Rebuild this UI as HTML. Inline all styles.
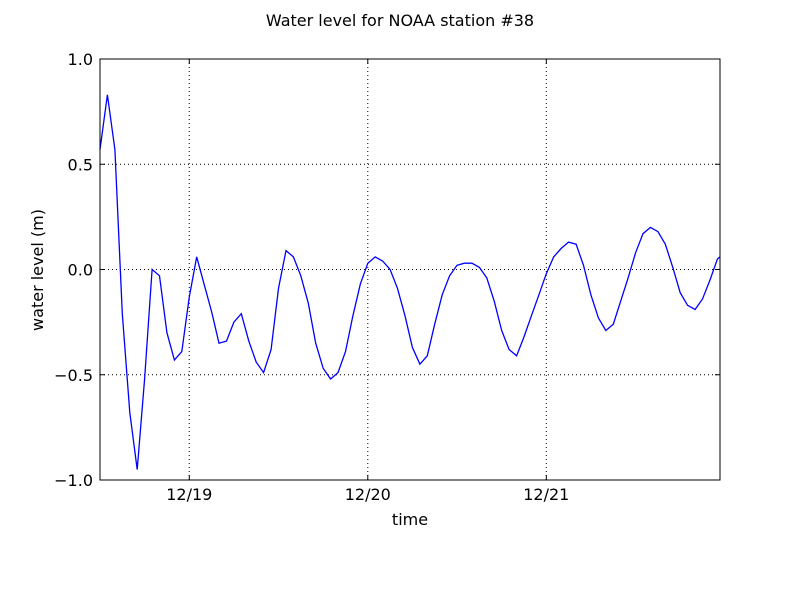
<!DOCTYPE html>
<html><head><meta charset="utf-8"><style>
body{margin:0;background:#fff;}
svg text{font-family:"DejaVu Sans","Liberation Sans",sans-serif;}
</style></head><body>
<svg id="chart" width="800" height="600" xmlns="http://www.w3.org/2000/svg">
<rect width="800" height="600" fill="#fff"/>
<text x="400" y="26" text-anchor="middle" font-size="16">Water level for NOAA station #38</text>
<g id="grid"></g>
<polyline id="line" fill="none" stroke="#0000ff" stroke-width="1.3"/>
<rect x="100" y="59" width="620" height="421" fill="none" stroke="#000" stroke-width="1"/>
<g id="ticks"></g>
<text x="410" y="525" text-anchor="middle" font-size="16">time</text>
<text transform="translate(43,270) rotate(-90)" text-anchor="middle" font-size="16">water level (m)</text>
</svg>
<script>
const hours = [];
const levels = [0.57,0.83,0.57,-0.21,-0.68,-0.95,-0.52,0.0,-0.03,-0.30,-0.43,-0.39,-0.13,0.06,-0.07,-0.2,-0.35,-0.34,-0.25,-0.21,-0.34,-0.44,-0.49,-0.38,-0.09,0.09,0.06,-0.03,-0.16,-0.35,-0.47,-0.52,-0.49,-0.39,-0.22,-0.07,0.03,0.06,0.04,0.0,-0.09,-0.22,-0.37,-0.45,-0.41,-0.26,-0.12,-0.03,0.02,0.03,0.03,0.01,-0.04,-0.15,-0.29,-0.38,-0.41,-0.32,-0.22,-0.12,-0.02,0.06,0.10,0.13,0.12,0.02,-0.12,-0.23,-0.29,-0.26,-0.15,-0.04,0.08,0.17,0.20,0.18,0.12,0.01,-0.11,-0.17,-0.19,-0.14,-0.05,0.05,0.06];
for (let i=0;i<levels.length;i++) hours.push(i<84?i:83.35);
const xTickHours = [12,36,60];
const xTickLabels = ["12/19","12/20","12/21"];
const yTicks = [-1,-0.5,0,0.5,1];
const yTickLabels = ["\u22121.0","\u22120.5","0.0","0.5","1.0"];
const X0=100,X1=720,Y0=480,Y1=59,XMAX=83.35;
const xs=h=>X0+(h/XMAX)*(X1-X0);
const ys=v=>Y0-(v+1)/2*(Y0-Y1);
const NS="http://www.w3.org/2000/svg";
const grid=document.getElementById('grid'), ticks=document.getElementById('ticks');
function mk(tag,attrs,parent){const e=document.createElementNS(NS,tag);for(const k in attrs)e.setAttribute(k,attrs[k]);parent.appendChild(e);return e;}
xTickHours.forEach((h,i)=>{
  const x=xs(h);
  const g=mk('line',{x1:x,x2:x,y1:Y1,y2:Y0,stroke:'#000','stroke-dasharray':'1,3','stroke-width':1},grid);
  
  
  mk('line',{x1:x,x2:x,y1:Y0,y2:Y0-5,stroke:'#000'},ticks);
  mk('line',{x1:x,x2:x,y1:Y1,y2:Y1+5,stroke:'#000'},ticks);
  const t=mk('text',{x:x,y:Y0+20,'text-anchor':'middle','font-size':16},ticks);
  t.textContent=xTickLabels[i];
  
  
});
yTicks.forEach((v,i)=>{
  const y=ys(v);
  if(v>-1&&v<1){const g=mk('line',{x1:X0,x2:X1,y1:y,y2:y,stroke:'#000','stroke-dasharray':'1,3','stroke-width':1},grid);
  
  }
  mk('line',{x1:X0,x2:X0+5,y1:y,y2:y,stroke:'#000'},ticks);
  mk('line',{x1:X1,x2:X1-5,y1:y,y2:y,stroke:'#000'},ticks);
  const t=mk('text',{x:X0-7,y:y+6,'text-anchor':'end','font-size':16},ticks);
  t.textContent=yTickLabels[i];
  
  
});
document.getElementById('line').setAttribute('points',levels.map((v,i)=>xs(hours[i]).toFixed(1)+','+ys(v).toFixed(1)).join(' '));
</script>
</body></html>
